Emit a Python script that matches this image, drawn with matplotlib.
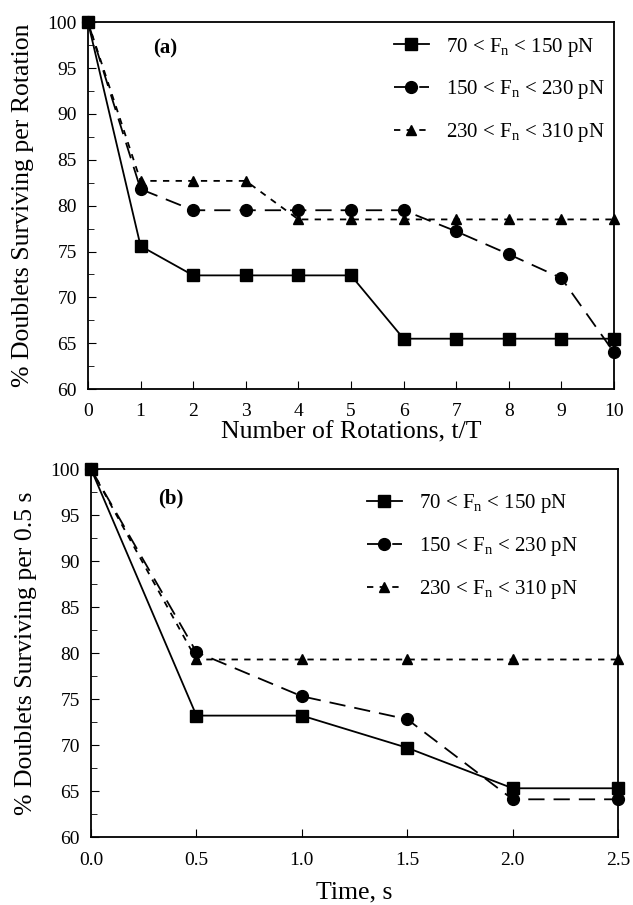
"""Two-panel doublet survival plot: (a) per rotation, (b) per 0.5 s."""

import matplotlib
matplotlib.use("Agg")
import matplotlib.pyplot as plt
from matplotlib.ticker import MultipleLocator

plt.rcParams["font.family"] = ["Liberation Serif", "DejaVu Serif"]
plt.rcParams["mathtext.fontset"] = "custom"
plt.rcParams["mathtext.rm"] = "Liberation Serif"
plt.rcParams["mathtext.it"] = "Liberation Serif"

# Panel (a): survival per rotation
rotations = [0, 1, 2, 3, 4, 5, 6, 7, 8, 9, 10]
a_low = [100, 75.6, 72.4, 72.4, 72.4, 72.4, 65.5, 65.5, 65.5, 65.5, 65.5]
a_mid = [100, 81.8, 79.5, 79.5, 79.5, 79.5, 79.5, 77.2, 74.7, 72.1, 64.0]
a_high = [100, 82.7, 82.7, 82.7, 78.5, 78.5, 78.5, 78.5, 78.5, 78.5, 78.5]

# Panel (b): survival per 0.5 s
times = [0.0, 0.5, 1.0, 1.5, 2.0, 2.5]
b_low = [100, 73.2, 73.2, 69.7, 65.3, 65.3]
b_mid = [100, 80.1, 75.3, 72.8, 64.1, 64.1]
b_high = [100, 79.3, 79.3, 79.3, 79.3, 79.3]

labels = [r"70 < F$_\mathrm{n}$ < 150 pN",
          r"150 < F$_\mathrm{n}$ < 230 pN",
          r"230 < F$_\mathrm{n}$ < 310 pN"]

styles = [
    dict(marker="s", linestyle="-", markersize=8.5),
    dict(marker="o", linestyle=(0, (9, 5)), markersize=8.5),
    dict(marker="^", linestyle=(0, (3.5, 3.5)), markersize=7.5),
]


def draw_panel(ax, x, series, tag, tag_pos, xlabel, ylabel, xticks, xfmt,
               leg_anchor, xpad):
    for y, lab, st in zip(series, labels, styles):
        ax.plot(x, y, color="black", linewidth=1.3, label=lab, clip_on=False,
                markerfacecolor="black", markeredgecolor="black", **st)
    ax.set_xlim(x[0], x[-1])
    ax.set_ylim(60, 100)
    ax.set_xticks(xticks)
    ax.set_xticklabels([xfmt.format(v) for v in xticks])
    ax.yaxis.set_major_locator(MultipleLocator(5))
    ax.yaxis.set_minor_locator(MultipleLocator(2.5))
    ax.tick_params(direction="in", which="both", labelsize=14, top=False, right=False)
    ax.tick_params(which="major", length=6)
    ax.tick_params(which="minor", length=4)
    ax.tick_params(axis="y", which="major", pad=8)
    ax.tick_params(axis="x", which="major", pad=xpad)
    for sp in ax.spines.values():
        sp.set_linewidth(1.3)
    ax.set_xlabel(xlabel, fontsize=18.5)
    ax.set_ylabel(ylabel, fontsize=18.5, labelpad=10)
    ax.text(tag_pos[0], tag_pos[1], tag, transform=ax.transAxes, fontsize=15,
            fontweight="bold", ha="left", va="center")
    ax.legend(loc="upper left", frameon=False, fontsize=15, handlelength=1.7,
              borderaxespad=0, labelspacing=0.95, bbox_to_anchor=leg_anchor)


fig = plt.figure(figsize=(6.33, 9.05), dpi=100)
ax_a = fig.add_axes([0.139, 0.570, 0.831, 0.4055])
ax_b = fig.add_axes([0.1438, 0.0751, 0.8326, 0.4066])

draw_panel(ax_a, rotations, [a_low, a_mid, a_high], "(a)", (0.124, 0.929),
           "Number of Rotations, t/T", "% Doublets Surviving per Rotation",
           rotations, "{:d}", (0.565, 0.986), 10)
ax_a.xaxis.labelpad = 1
draw_panel(ax_b, times, [b_low, b_mid, b_high], "(b)", (0.127, 0.921),
           "Time, s", "% Doublets Surviving per 0.5 s",
           times, "{:.1f}", (0.507, 0.959), 11)
ax_b.xaxis.labelpad = 9

fig.savefig("out.png", dpi=100)
